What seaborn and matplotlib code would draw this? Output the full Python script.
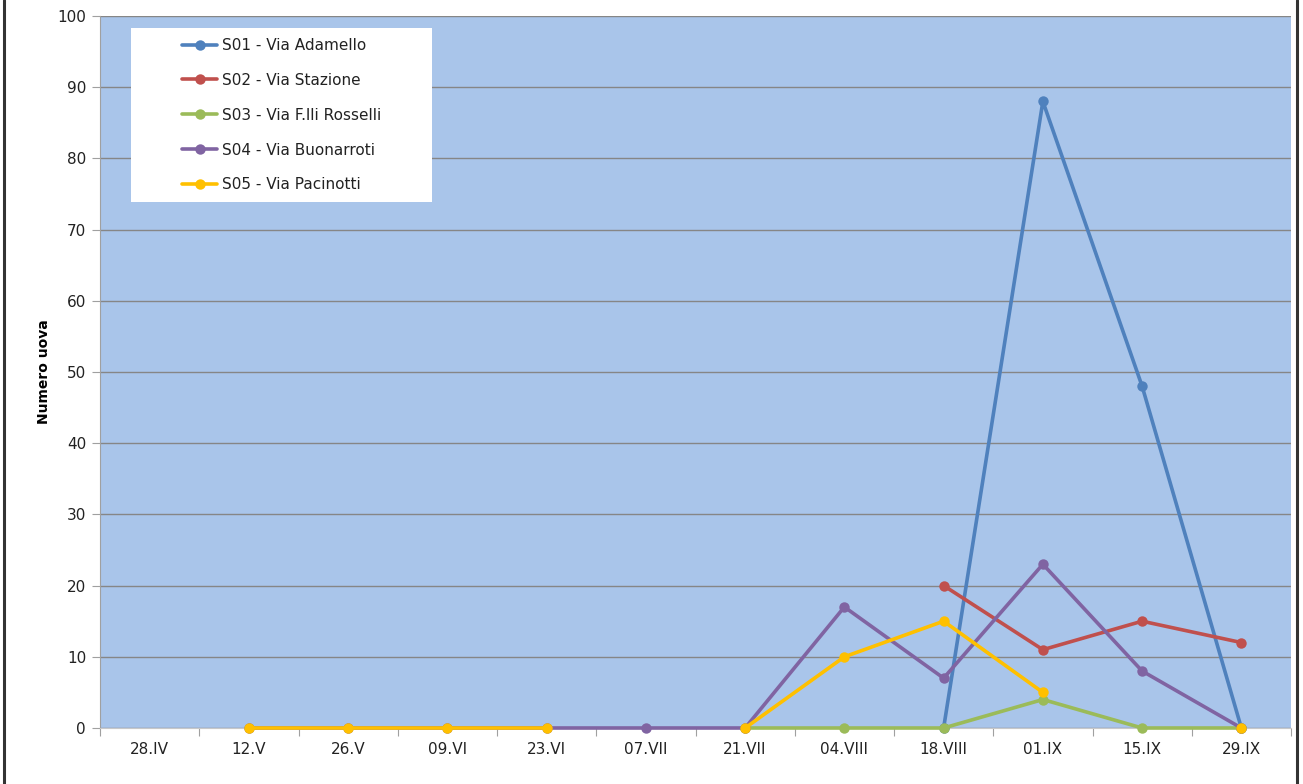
import numpy as np
import pandas as pd
import matplotlib
matplotlib.use("Agg")
import matplotlib.pyplot as plt
from matplotlib.lines import Line2D
import seaborn as sns

# Dates of the samplings (categories on the x axis)
dates = ["28.IV", "12.V", "26.V", "09.VI", "23.VI", "07.VII", "21.VII",
         "04.VIII", "18.VIII", "01.IX", "15.IX", "29.IX"]

nan = np.nan
s01 = [nan, nan, nan, nan, nan, nan, nan, nan, 0, 88, 48, 0]
s02 = [nan, nan, nan, nan, nan, nan, nan, nan, 20, 11, 15, 12]
s03 = [nan, nan, nan, nan, nan, nan, 0, 0, 0, 4, 0, 0]
s04 = [nan, 0, 0, 0, 0, 0, 0, 17, 7, 23, 8, 0]
s05 = [nan, 0, 0, 0, 0, nan, 0, 10, 15, 5, nan, 0]

series_names = ["S01 - Via Adamello", "S02 - Via Stazione", "S03 - Via F.lli Rosselli",
                "S04 - Via Buonarroti", "S05 - Via Pacinotti"]
series_values = [s01, s02, s03, s04, s05]
colors = ["#4F81BD", "#C0504D", "#9BBB59", "#8064A2", "#FFC000"]

# Long table; contiguous runs get their own unit so gaps stay open
rows = []
for name, vals in zip(series_names, series_values):
    seg = 0
    prev_nan = True
    for i, v in enumerate(vals):
        if np.isnan(v):
            prev_nan = True
            continue
        if prev_nan:
            seg += 1
        prev_nan = False
        rows.append({"pos": i, "value": v, "series": name, "unit": f"{name}_{seg}"})
df = pd.DataFrame(rows)

sns.set_style("white")
plt.rcParams["font.family"] = ["DejaVu Sans"]

fig = plt.figure(figsize=(13.03, 7.84), dpi=100)
ax = fig.add_axes([100 / 1303, 1 - 728 / 784, (1291 - 100) / 1303, (728 - 16) / 784])
ax.set_facecolor("#A9C5EA")

sns.lineplot(data=df, x="pos", y="value", hue="series", units="unit", estimator=None,
             hue_order=series_names, palette=colors, marker="o", markersize=7.5,
             markeredgewidth=0, linewidth=2.6, ax=ax, legend=True, clip_on=False, zorder=3)

ax.set_ylim(0, 100)
ax.set_xlim(-0.5, len(dates) - 0.5)
ax.set_yticks(np.arange(0, 101, 10))
ax.yaxis.grid(True, color="#868686", linewidth=1)
ax.set_axisbelow(True)

# tick marks between categories, labels at the centers
ax.set_xticks(np.arange(-0.5, len(dates), 1))
ax.set_xticklabels([])
ax.set_xticks(np.arange(len(dates)), minor=True)
ax.set_xticklabels(dates, minor=True, fontsize=11, color="#222222")
ax.tick_params(axis="x", which="major", length=6, color="#A0A0A0", direction="out", bottom=True)
ax.tick_params(axis="x", which="minor", length=0, pad=10)
ax.tick_params(axis="y", length=6, color="#A0A0A0", direction="out", left=True,
               labelsize=11, labelcolor="#222222", pad=4)

for side in ["top", "right"]:
    ax.spines[side].set_visible(False)
ax.spines["left"].set_color("#A0A0A0")
ax.spines["bottom"].set_color("#C8C8C8")

ax.set_xlabel("")
ax.set_ylabel("Numero uova", fontsize=10, fontweight="bold", color="black")
ax.yaxis.set_label_coords(-49 / 1191, 0.5)

leg = ax.legend(loc="upper left", bbox_to_anchor=(31 / 1191, 1 - 12 / 712), frameon=True,
                fancybox=False, edgecolor="white", facecolor="white", framealpha=1,
                fontsize=11, labelspacing=1.3, handlelength=2.3, handletextpad=0.3,
                borderpad=0.65, borderaxespad=0)
leg.get_frame().set_linewidth(0)
for t in leg.get_texts():
    t.set_color("#222222")
leg._legend_box.set_width(281)

# outer frame lines on the left and right edges
fig.add_artist(Line2D([4 / 1303, 4 / 1303], [0, 1], color="#333333", linewidth=2.2))
fig.add_artist(Line2D([1297 / 1303, 1297 / 1303], [0, 1], color="#333333", linewidth=2.2))

fig.savefig("out.png", dpi=100)
